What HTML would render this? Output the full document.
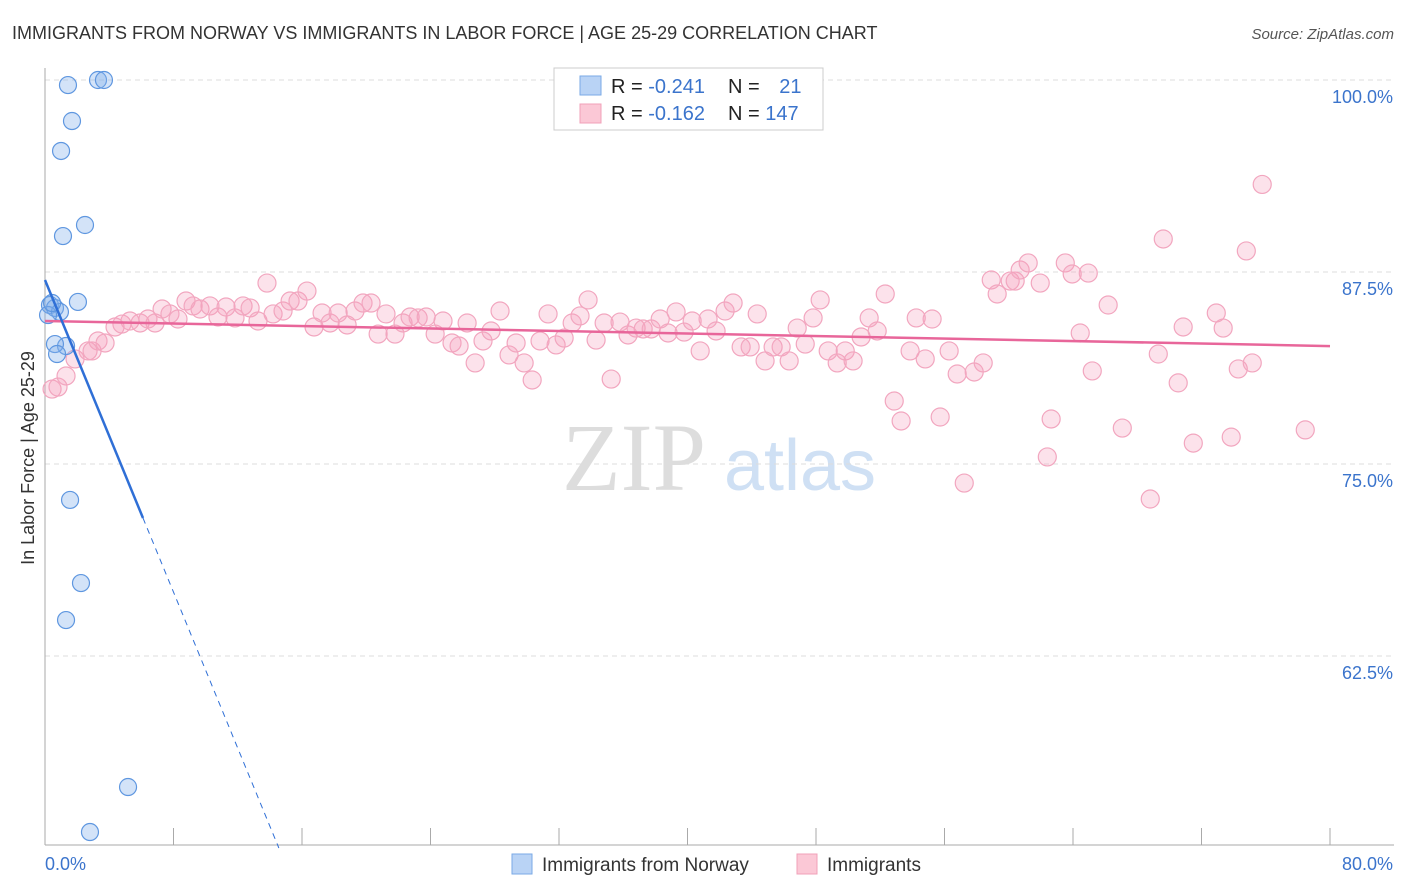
<!DOCTYPE html>
<html><head><meta charset="utf-8"><style>
body{margin:0;background:#fff;font-family:"Liberation Sans",sans-serif;}
#wrap{position:relative;width:1406px;height:892px;overflow:hidden;}
</style></head><body>
<div id="wrap">
<svg id="svg" width="1406" height="892" xmlns="http://www.w3.org/2000/svg">
<text x="12" y="39" font-size="18" fill="#333">IMMIGRANTS FROM NORWAY VS IMMIGRANTS IN LABOR FORCE | AGE 25-29 CORRELATION CHART</text>
<text x="1394" y="39" font-size="15" fill="#555" font-style="italic" text-anchor="end">Source: ZipAtlas.com</text>
<text x="634" y="490" font-size="96" fill="#ddd" font-family="Liberation Serif,serif" text-anchor="middle">ZIP</text>
<text x="800" y="490" font-size="72" fill="#cfe0f4" text-anchor="middle">atlas</text>
<text transform="translate(34,458) rotate(-90)" font-size="18" fill="#333" text-anchor="middle">In Labor Force | Age 25-29</text>
<g id="grid"></g><g id="pts"></g><g id="lines"></g>
<g>
<rect x="554" y="68" width="269" height="62" fill="#fff" stroke="#ccc"/>
<rect x="580" y="76" width="21" height="19" fill="#b9d3f5" stroke="#7aaae6"/>
<rect x="580" y="104" width="21" height="19" fill="#fbc8d6" stroke="#f0a0b8"/>
<text x="611" y="93" font-size="20" fill="#222">R = <tspan fill="#3b74cc">-0.241</tspan></text>
<text x="728" y="93" font-size="20" fill="#222">N = <tspan fill="#3b74cc" dx="14">21</tspan></text>
<text x="611" y="120" font-size="20" fill="#222">R = <tspan fill="#3b74cc">-0.162</tspan></text>
<text x="728" y="120" font-size="20" fill="#222">N = <tspan fill="#3b74cc">147</tspan></text>
</g>
<g>
<rect x="512" y="854" width="20" height="20" fill="#b9d3f5" stroke="#7aaae6"/>
<text x="542" y="871" font-size="19" fill="#333">Immigrants from Norway</text>
<rect x="797" y="854" width="20" height="20" fill="#fbc8d6" stroke="#f0a0b8"/>
<text x="827" y="871" font-size="19" fill="#333">Immigrants</text>
</g>
<text x="45" y="870" font-size="18" fill="#3b74cc">0.0%</text>
<text x="1393" y="870" font-size="18" fill="#3b74cc" text-anchor="end">80.0%</text>
</svg>
</div>
<script>
const blueX=[1.43,3.30,3.67,1.68,1.0,2.49,1.12,2.05,0.31,0.62,0.93,1.31,0.62,0.75,1.56,2.24,1.31,5.17,2.80,0.19,0.44];
const blueY=[99.67,100,100,97.33,95.38,90.56,89.84,85.55,85.35,85.16,84.9,82.68,82.81,82.16,72.66,67.25,64.84,53.97,51.04,84.7,85.48];
const pinkX=[0.44,0.81,1.31,1.87,2.68,2.93,3.30,3.74,4.36,4.79,5.29,5.92,6.41,6.85,7.29,7.78,8.28,8.78,9.22,9.65,10.27,10.77,11.27,11.83,12.33,12.77,13.26,13.82,14.20,14.82,15.26,15.75,16.31,16.75,17.25,17.75,18.25,18.81,19.30,19.80,20.30,20.74,21.23,21.79,22.29,22.73,23.23,23.73,24.29,24.78,25.34,25.78,26.28,26.78,27.27,27.77,28.33,28.89,29.33,29.83,30.33,30.82,31.32,31.82,32.32,32.82,33.31,33.81,34.31,34.81,35.25,35.80,36.30,36.80,37.24,37.74,38.30,38.79,39.29,39.79,40.29,40.79,41.28,41.78,42.34,42.84,43.34,43.90,44.34,44.83,45.33,45.83,46.33,46.83,47.33,47.82,48.26,48.76,49.32,49.82,50.31,50.81,51.31,51.81,52.31,52.87,53.30,53.86,54.24,54.80,55.23,55.73,56.29,56.79,57.23,57.85,58.41,58.91,59.28,60.09,60.40,60.71,61.21,61.96,62.40,62.64,63.52,63.95,64.45,64.95,65.20,66.19,67.07,68.81,69.31,69.62,70.55,70.86,71.49,72.92,73.35,73.85,74.29,74.79,75.16,75.78,78.46];
const pinkY=[79.88,80.01,80.73,81.84,82.36,82.36,83.01,82.88,83.92,84.11,84.31,84.18,84.44,84.18,85.09,84.77,84.44,85.61,85.29,85.09,85.29,84.57,85.22,84.51,85.29,85.16,84.31,86.78,84.77,84.96,85.61,85.61,86.26,83.92,84.83,84.18,84.83,84.05,84.96,85.48,85.48,83.46,84.77,83.46,84.18,84.57,84.51,84.57,83.46,84.31,82.88,82.68,84.18,81.58,83.01,83.66,84.96,82.10,82.88,81.58,80.47,83.01,84.77,82.75,83.20,84.18,84.64,85.68,83.07,84.18,80.53,84.24,83.40,83.85,83.79,83.79,84.44,83.53,84.90,83.59,84.31,82.36,84.44,83.66,84.96,85.48,82.62,82.62,84.77,81.71,82.62,82.62,81.71,83.85,82.81,84.51,85.68,82.36,81.58,82.36,81.71,83.27,84.51,83.66,86.07,79.10,77.80,82.36,84.51,81.84,84.44,78.06,82.36,80.86,73.76,80.99,81.58,86.98,86.07,86.91,86.91,87.63,88.09,86.78,75.46,77.93,88.09,87.37,83.53,87.43,81.06,85.35,77.34,72.72,82.16,89.65,80.28,83.92,76.36,84.83,83.85,76.75,81.19,88.87,81.58,93.20,77.22];
const yTicks=[100,87.5,75,62.5];
const yTickLabels=["100.0%","87.5%","75.0%","62.5%"];
const xTicks=[0,8,16,24,32,40,48,56,64,72,80];
const blueFit=[86.98,-2.54], pinkFit=[84.31,-0.0204];
const NS="http://www.w3.org/2000/svg";
const X0=45,X1=1330,Y100=80,PPY=15.36;
const sx=v=>X0+(X1-X0)*v/80;
const sy=v=>Y100+(100-v)*PPY;
function mk(t,a,p){const e=document.createElementNS(NS,t);for(const k in a)e.setAttribute(k,a[k]);p.appendChild(e);return e;}
const grid=document.getElementById('grid');
yTicks.forEach((t,i)=>{
 const l=mk('line',{x1:X0,x2:1394,y1:sy(t),y2:sy(t),stroke:'#ddd','stroke-dasharray':'5,4'},grid);
 
 
 const tx=mk('text',{x:1393,y:sy(t)+23,'font-size':18,fill:'#3b74cc','text-anchor':'end'},grid);
 tx.textContent=yTickLabels[i];
 
 
});
const ax=mk('line',{x1:X0,x2:X0,y1:68,y2:845,stroke:'#aaa'},grid);


const bx=mk('line',{x1:X0,x2:1394,y1:845,y2:845,stroke:'#aaa'},grid);


xTicks.forEach(t=>{const l=mk('line',{x1:sx(t),x2:sx(t),y1:828,y2:845,stroke:'#aaa'},grid);
 
 });
const pts=document.getElementById('pts');
pinkX.forEach((x,i)=>{const c=mk('circle',{cx:sx(x),cy:sy(pinkY[i]),r:9,fill:'rgba(244,160,188,0.3)',stroke:'#f2a6bf','stroke-width':1.2},pts);
 
 });
blueX.forEach((x,i)=>{const c=mk('circle',{cx:sx(x),cy:sy(blueY[i]),r:8.5,fill:'rgba(130,175,235,0.35)',stroke:'#5f97e0','stroke-width':1.2},pts);
 
 });
const lines=document.getElementById('lines');
const pl=mk('line',{x1:sx(0),y1:sy(pinkFit[0]),x2:sx(80),y2:sy(pinkFit[0]+pinkFit[1]*80),stroke:'#e8669a','stroke-width':2.5},lines);


const bs=mk('line',{x1:sx(0),y1:sy(blueFit[0]),x2:sx(6.1),y2:sy(blueFit[0]+blueFit[1]*6.1),stroke:'#2f6fd6','stroke-width':2.5},lines);


const xe=(50-blueFit[0])/blueFit[1];
const bd=mk('line',{x1:sx(6.1),y1:sy(blueFit[0]+blueFit[1]*6.1),x2:sx(xe),y2:sy(50),stroke:'#2f6fd6','stroke-width':1,'stroke-dasharray':'6,5'},lines);


</script>
</body></html>
